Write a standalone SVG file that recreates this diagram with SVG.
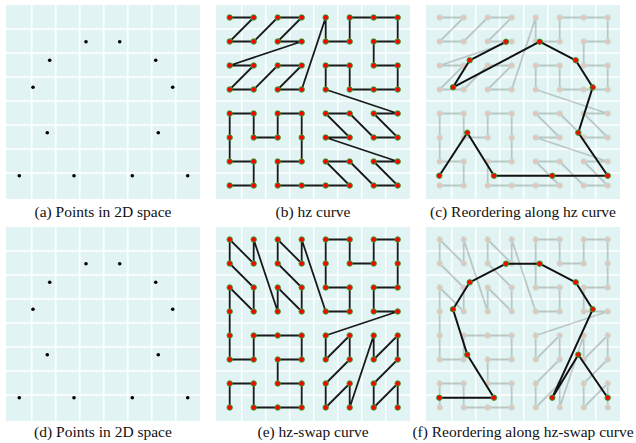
<svg xmlns="http://www.w3.org/2000/svg" xmlns:xlink="http://www.w3.org/1999/xlink" width="636" height="443" viewBox="0 0 636 443">
<style>
.bg{fill:#e1f4f3}
.grid{stroke:#ffffff;stroke-width:1.5;fill:none}
.curve{stroke:#1a1a1a;stroke-width:1.8;fill:none;stroke-linejoin:round;stroke-linecap:round}
.path12{stroke:#111111;stroke-width:2;fill:none;stroke-linejoin:round}
.dot{fill:#ff0000;stroke:#2ca02c;stroke-width:1}
.pt{fill:#000000}
.faded{opacity:0.2}
text{font-family:'Liberation Serif','Times New Roman',serif;font-size:15.5px;fill:#111111;text-anchor:middle}
</style>
<defs>
<g id="panelbg">
<rect class="bg" x="0" y="0" width="194" height="194"/>
<path class="grid" d="M25.7,0V194M49.7,0V194M73.7,0V194M97.7,0V194M121.7,0V194M145.7,0V194M169.7,0V194M0,24H194M0,48H194M0,72H194M0,96H194M0,120H194M0,144H194M0,168H194"/>
</g>
<g id="griddots">
<circle class="dot" cx="13.7" cy="12.5" r="2.7"/><circle class="dot" cx="37.7" cy="12.5" r="2.7"/><circle class="dot" cx="61.7" cy="12.5" r="2.7"/><circle class="dot" cx="85.7" cy="12.5" r="2.7"/><circle class="dot" cx="109.7" cy="12.5" r="2.7"/><circle class="dot" cx="133.7" cy="12.5" r="2.7"/><circle class="dot" cx="157.7" cy="12.5" r="2.7"/><circle class="dot" cx="181.7" cy="12.5" r="2.7"/>
<circle class="dot" cx="13.7" cy="36.5" r="2.7"/><circle class="dot" cx="37.7" cy="36.5" r="2.7"/><circle class="dot" cx="61.7" cy="36.5" r="2.7"/><circle class="dot" cx="85.7" cy="36.5" r="2.7"/><circle class="dot" cx="109.7" cy="36.5" r="2.7"/><circle class="dot" cx="133.7" cy="36.5" r="2.7"/><circle class="dot" cx="157.7" cy="36.5" r="2.7"/><circle class="dot" cx="181.7" cy="36.5" r="2.7"/>
<circle class="dot" cx="13.7" cy="60.5" r="2.7"/><circle class="dot" cx="37.7" cy="60.5" r="2.7"/><circle class="dot" cx="61.7" cy="60.5" r="2.7"/><circle class="dot" cx="85.7" cy="60.5" r="2.7"/><circle class="dot" cx="109.7" cy="60.5" r="2.7"/><circle class="dot" cx="133.7" cy="60.5" r="2.7"/><circle class="dot" cx="157.7" cy="60.5" r="2.7"/><circle class="dot" cx="181.7" cy="60.5" r="2.7"/>
<circle class="dot" cx="13.7" cy="84.5" r="2.7"/><circle class="dot" cx="37.7" cy="84.5" r="2.7"/><circle class="dot" cx="61.7" cy="84.5" r="2.7"/><circle class="dot" cx="85.7" cy="84.5" r="2.7"/><circle class="dot" cx="109.7" cy="84.5" r="2.7"/><circle class="dot" cx="133.7" cy="84.5" r="2.7"/><circle class="dot" cx="157.7" cy="84.5" r="2.7"/><circle class="dot" cx="181.7" cy="84.5" r="2.7"/>
<circle class="dot" cx="13.7" cy="108.5" r="2.7"/><circle class="dot" cx="37.7" cy="108.5" r="2.7"/><circle class="dot" cx="61.7" cy="108.5" r="2.7"/><circle class="dot" cx="85.7" cy="108.5" r="2.7"/><circle class="dot" cx="109.7" cy="108.5" r="2.7"/><circle class="dot" cx="133.7" cy="108.5" r="2.7"/><circle class="dot" cx="157.7" cy="108.5" r="2.7"/><circle class="dot" cx="181.7" cy="108.5" r="2.7"/>
<circle class="dot" cx="13.7" cy="132.5" r="2.7"/><circle class="dot" cx="37.7" cy="132.5" r="2.7"/><circle class="dot" cx="61.7" cy="132.5" r="2.7"/><circle class="dot" cx="85.7" cy="132.5" r="2.7"/><circle class="dot" cx="109.7" cy="132.5" r="2.7"/><circle class="dot" cx="133.7" cy="132.5" r="2.7"/><circle class="dot" cx="157.7" cy="132.5" r="2.7"/><circle class="dot" cx="181.7" cy="132.5" r="2.7"/>
<circle class="dot" cx="13.7" cy="156.5" r="2.7"/><circle class="dot" cx="37.7" cy="156.5" r="2.7"/><circle class="dot" cx="61.7" cy="156.5" r="2.7"/><circle class="dot" cx="85.7" cy="156.5" r="2.7"/><circle class="dot" cx="109.7" cy="156.5" r="2.7"/><circle class="dot" cx="133.7" cy="156.5" r="2.7"/><circle class="dot" cx="157.7" cy="156.5" r="2.7"/><circle class="dot" cx="181.7" cy="156.5" r="2.7"/>
<circle class="dot" cx="13.7" cy="180.5" r="2.7"/><circle class="dot" cx="37.7" cy="180.5" r="2.7"/><circle class="dot" cx="61.7" cy="180.5" r="2.7"/><circle class="dot" cx="85.7" cy="180.5" r="2.7"/><circle class="dot" cx="109.7" cy="180.5" r="2.7"/><circle class="dot" cx="133.7" cy="180.5" r="2.7"/><circle class="dot" cx="157.7" cy="180.5" r="2.7"/><circle class="dot" cx="181.7" cy="180.5" r="2.7"/>
</g>
<path id="hz" class="curve" d="M13.7,12.5L37.7,12.5L13.7,36.5L37.7,36.5L61.7,12.5L85.7,12.5L61.7,36.5L85.7,36.5L13.7,60.5L37.7,60.5L13.7,84.5L37.7,84.5L61.7,60.5L85.7,60.5L61.7,84.5L85.7,84.5L109.7,12.5L109.7,36.5L133.7,36.5L133.7,12.5L157.7,12.5L181.7,12.5L181.7,36.5L157.7,36.5L157.7,60.5L181.7,60.5L181.7,84.5L157.7,84.5L133.7,84.5L133.7,60.5L109.7,60.5L109.7,84.5L181.7,108.5L157.7,108.5L181.7,132.5L157.7,132.5L133.7,108.5L109.7,108.5L133.7,132.5L109.7,132.5L181.7,156.5L157.7,156.5L181.7,180.5L157.7,180.5L133.7,156.5L109.7,156.5L133.7,180.5L109.7,180.5L85.7,180.5L61.7,180.5L61.7,156.5L85.7,156.5L85.7,132.5L85.7,108.5L61.7,108.5L61.7,132.5L37.7,132.5L37.7,108.5L13.7,108.5L13.7,132.5L13.7,156.5L37.7,156.5L37.7,180.5L13.7,180.5"/>
<path id="hzswap" class="curve" d="M13.7,180.5L13.7,156.5L37.7,156.5L37.7,180.5L61.7,180.5L85.7,180.5L85.7,156.5L61.7,156.5L61.7,132.5L85.7,132.5L85.7,108.5L61.7,108.5L37.7,108.5L37.7,132.5L13.7,132.5L13.7,108.5L13.7,84.5L13.7,60.5L37.7,84.5L37.7,60.5L13.7,36.5L13.7,12.5L37.7,36.5L37.7,12.5L61.7,84.5L61.7,60.5L85.7,84.5L85.7,60.5L61.7,36.5L61.7,12.5L85.7,36.5L85.7,12.5L109.7,84.5L133.7,84.5L133.7,60.5L109.7,60.5L109.7,36.5L109.7,12.5L133.7,12.5L133.7,36.5L157.7,36.5L157.7,12.5L181.7,12.5L181.7,36.5L181.7,60.5L157.7,60.5L157.7,84.5L181.7,84.5L109.7,108.5L109.7,132.5L133.7,108.5L133.7,132.5L109.7,156.5L109.7,180.5L133.7,156.5L133.7,180.5L157.7,108.5L157.7,132.5L181.7,108.5L181.7,132.5L157.7,156.5L157.7,180.5L181.7,156.5L181.7,180.5"/>
<g id="pts12">
<circle class="pt" cx="80" cy="36.7" r="1.8"/><circle class="pt" cx="113.7" cy="36.7" r="1.8"/>
<circle class="pt" cx="43.7" cy="55.3" r="1.8"/><circle class="pt" cx="149.7" cy="55.3" r="1.8"/>
<circle class="pt" cx="27" cy="82.3" r="1.8"/><circle class="pt" cx="166.7" cy="82.3" r="1.8"/>
<circle class="pt" cx="41.3" cy="127.7" r="1.8"/><circle class="pt" cx="152.3" cy="127.7" r="1.8"/>
<circle class="pt" cx="13.3" cy="170.7" r="1.8"/><circle class="pt" cx="68" cy="170.7" r="1.8"/><circle class="pt" cx="126.3" cy="170.7" r="1.8"/><circle class="pt" cx="181.7" cy="170.7" r="1.8"/>
</g>
<g id="dots12">
<circle class="dot" cx="80" cy="36.7" r="2.7"/><circle class="dot" cx="113.7" cy="36.7" r="2.7"/>
<circle class="dot" cx="43.7" cy="55.3" r="2.7"/><circle class="dot" cx="149.7" cy="55.3" r="2.7"/>
<circle class="dot" cx="27" cy="82.3" r="2.7"/><circle class="dot" cx="166.7" cy="82.3" r="2.7"/>
<circle class="dot" cx="41.3" cy="127.7" r="2.7"/><circle class="dot" cx="152.3" cy="127.7" r="2.7"/>
<circle class="dot" cx="13.3" cy="170.7" r="2.7"/><circle class="dot" cx="68" cy="170.7" r="2.7"/><circle class="dot" cx="126.3" cy="170.7" r="2.7"/><circle class="dot" cx="181.7" cy="170.7" r="2.7"/>
</g>
</defs>

<g id="panel-a" transform="translate(6,5)">
<use xlink:href="#panelbg" href="#panelbg"/>
<use xlink:href="#pts12" href="#pts12"/>
</g>
<text x="103" y="216.5" font-family="Liberation Serif, serif">(a) Points in 2D space</text>

<g id="panel-b" transform="translate(216,5)">
<use xlink:href="#panelbg" href="#panelbg"/>
<g id="connectors-b"><use xlink:href="#hz" href="#hz"/></g>
<use xlink:href="#griddots" href="#griddots"/>
</g>
<text x="313" y="216.5" font-family="Liberation Serif, serif">(b) hz curve</text>

<g id="panel-c" transform="translate(426,5)">
<use xlink:href="#panelbg" href="#panelbg"/>
<g class="faded"><use xlink:href="#hz" href="#hz"/><use xlink:href="#griddots" href="#griddots"/></g>
<g id="connectors-c"><path class="path12" d="M80,36.7L43.7,55.3L27,82.3L113.7,36.7L149.7,55.3L166.7,82.3L152.3,127.7L181.7,170.7L126.3,170.7L68,170.7L41.3,127.7L13.3,170.7"/></g>
<use xlink:href="#dots12" href="#dots12"/>
</g>
<text x="523" y="216.5" font-family="Liberation Serif, serif">(c) Reordering along hz curve</text>

<g id="panel-d" transform="translate(6,227)">
<use xlink:href="#panelbg" href="#panelbg"/>
<use xlink:href="#pts12" href="#pts12"/>
</g>
<text x="103" y="436.5" font-family="Liberation Serif, serif">(d) Points in 2D space</text>

<g id="panel-e" transform="translate(216,227)">
<use xlink:href="#panelbg" href="#panelbg"/>
<g id="connectors-e"><use xlink:href="#hzswap" href="#hzswap"/></g>
<use xlink:href="#griddots" href="#griddots"/>
</g>
<text x="313" y="436.5" font-family="Liberation Serif, serif">(e) hz-swap curve</text>

<g id="panel-f" transform="translate(426,227)">
<use xlink:href="#panelbg" href="#panelbg"/>
<g class="faded"><use xlink:href="#hzswap" href="#hzswap"/><use xlink:href="#griddots" href="#griddots"/></g>
<g id="connectors-f"><path class="path12" d="M13.3,170.7L68,170.7L41.3,127.7L27,82.3L43.7,55.3L80,36.7L113.7,36.7L149.7,55.3L166.7,82.3L126.3,170.7L152.3,127.7L181.7,170.7"/></g>
<use xlink:href="#dots12" href="#dots12"/>
</g>
<text x="523" y="436.5" font-family="Liberation Serif, serif">(f) Reordering along hz-swap curve</text>
</svg>
